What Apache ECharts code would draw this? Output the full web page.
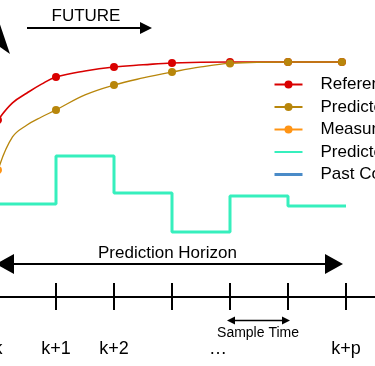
<!DOCTYPE html>
<html><head><meta charset="utf-8">
<script src="https://cdn.jsdelivr.net/npm/echarts@6/dist/echarts.min.js"></script>
<style>html,body{margin:0;padding:0;background:#fff}#c{width:375px;height:366px}</style>
</head><body><div id="c"></div>
<script>
// ---- data (time in sample steps, k = 0; outputs normalised so set-point = 1) ----
const tickLabels = ['k', 'k+1', 'k+2', '', '…', '', 'k+p'];

const refT = [0, 0.25, 0.5, 0.75, 1, 1.5, 2, 2.5, 3, 4, 5, 5.93];
const refV = [0.753, 0.826, 0.868, 0.906, 0.936, 0.962, 0.979, 0.988, 0.996, 1.0, 1.0, 1.0];
const refMarked = [1, 0, 0, 0, 1, 0, 1, 0, 1, 1, 1, 1];

const predT = [0, 0.25, 0.5, 0.75, 1, 1.5, 2, 2.5, 3, 3.5, 4, 5, 5.93];
const predV = [0.54, 0.681, 0.732, 0.766, 0.796, 0.860, 0.902, 0.932, 0.957, 0.979, 0.994, 1.0, 1.0];
const predMarked = [0, 0, 0, 0, 1, 0, 1, 0, 1, 0, 1, 1, 1];

const measT = [0];
const measV = [0.54];

const ctrlT = [0, 1, 2, 3, 4, 5, 6];
const ctrlV = [0.396, 0.600, 0.443, 0.277, 0.430, 0.387, 0.387];

const legendNames = ['Reference', 'Predicted Output', 'Measured Output', 'Predicted Control Action', 'Past Control Action'];

const noteTexts = ['FUTURE', 'Prediction Horizon', 'Sample Time'];
const noteT = [1.517, 2.922, 4.483];
const noteV = [1.196, 0.187, -0.152];
const noteSize = [17, 17, 14];

// arrows: [startT, startV, endT, endV]
const futureArrow = [0.5, 1.145, 2.552, 1.145];
const horizonArrow = [0.1207, 0.1404, 5.793, 0.1404];
const sampleArrow = [4.017, -0.1, 4.966, -0.1];
const cornerArrow = [-0.372, 1.2247, 0.0414, 1.0885];

const RED = '#d90000', GOLD = '#b8860b', ORANGE = '#ff9414', AQUA = '#36efbd', BLUE = '#4a8bc8';
const FONT = "'Liberation Sans', Arial, Helvetica, sans-serif";

function pts(ts, vs, marked) {
  return ts.map((t, i) => ({ value: [t, vs[i]], symbol: (marked && !marked[i]) ? 'none' : 'circle' }));
}

const chart = echarts.init(document.getElementById('c'), null, { renderer: 'canvas' });

const tickStyle = { color: '#000', width: 2 };
function labelFmt(value) {
  const i = Math.round(value);
  if (Math.abs(value - i) > 1e-6 || i < 0 || i >= tickLabels.length) return '';
  const s = tickLabels[i];
  return s === '…' ? '{d|…}' : s;
}

function arrow(a, startSym, endSym, w) {
  return [
    { coord: [a[0], a[1]], symbol: startSym[0], symbolSize: startSym[1], lineStyle: { width: w, color: '#000', type: 'solid' } },
    { coord: [a[2], a[3]], symbol: endSym[0], symbolSize: endSym[1] }
  ];
}

const option = {
  animation: false,
  backgroundColor: '#ffffff',
  textStyle: { fontFamily: FONT },
  grid: [
    { left: -60, top: -55.5, width: 440.8, height: 470, containLabel: false, outerBoundsMode: 'none' },
    { left: -60, top: 0, width: 440.8, height: 297, containLabel: false, outerBoundsMode: 'none' }
  ],
  xAxis: [
    {
      gridIndex: 0, type: 'value', position: 'bottom', min: -1, max: 6.6, interval: 1,
      axisLine: { show: true, onZero: true, lineStyle: tickStyle },
      axisTick: { show: true, inside: true, length: 14, lineStyle: tickStyle },
      axisLabel: { show: false }, splitLine: { show: false }
    },
    {
      gridIndex: 1, type: 'value', position: 'bottom', min: -1, max: 6.6, interval: 1,
      axisLine: { show: true, onZero: false, lineStyle: tickStyle },
      axisTick: { show: true, inside: false, length: 13, lineStyle: tickStyle },
      axisLabel: {
        show: true, margin: 43, fontSize: 18, color: '#000', fontFamily: FONT,
        formatter: labelFmt,
        rich: { d: { fontSize: 18, fontFamily: FONT, color: '#000', padding: [0, 24, 0, 0] } }
      },
      splitLine: { show: false }
    }
  ],
  yAxis: [
    { gridIndex: 0, type: 'value', min: -0.5, max: 1.5, show: false },
    { gridIndex: 1, type: 'value', min: 0, max: 1, show: false }
  ],
  legend: {
    orient: 'vertical', left: 273, top: 76, padding: 0,
    itemWidth: 28, itemHeight: 10, itemGap: 5.5,
    textStyle: { fontSize: 17, color: '#000', fontFamily: FONT, padding: [0, 0, 0, 13] },
    lineStyle: { width: 2 },
    data: [
      { name: legendNames[0] },
      { name: legendNames[1] },
      { name: legendNames[2] },
      { name: legendNames[3], itemStyle: { opacity: 0 } },
      { name: legendNames[4], itemStyle: { opacity: 0 }, lineStyle: { width: 3 } }
    ]
  },
  series: [
    {
      name: legendNames[3], type: 'line', step: 'end', symbol: 'none',
      data: ctrlT.map((t, i) => [t, ctrlV[i]]),
      lineStyle: { color: AQUA, width: 3 }, itemStyle: { color: AQUA }, z: 2
    },
    {
      name: legendNames[4], type: 'line', symbol: 'none', data: [],
      lineStyle: { color: BLUE, width: 3 }, itemStyle: { color: BLUE }, z: 2
    },
    {
      name: legendNames[0], type: 'line', smooth: 0.4, symbol: 'circle', symbolSize: 8,
      data: pts(refT, refV, refMarked),
      lineStyle: { color: RED, width: 1.6 }, itemStyle: { color: RED }, z: 3
    },
    {
      name: legendNames[1], type: 'line', smooth: 0.4, symbol: 'circle', symbolSize: 8,
      data: pts(predT, predV, predMarked),
      lineStyle: { color: GOLD, width: 1.3 }, itemStyle: { color: GOLD }, z: 4
    },
    {
      name: legendNames[2], type: 'line', symbol: 'circle', symbolSize: 8,
      data: pts(measT, measV, null),
      lineStyle: { color: ORANGE, width: 1.6 }, itemStyle: { color: ORANGE }, z: 5
    },
    {
      name: 'annotations', type: 'line', data: [], symbol: 'none',
      markLine: {
        silent: true, animation: false,
        label: { show: false },
        lineStyle: { color: '#000', type: 'solid', width: 2 },
        emphasis: { disabled: true },
        data: [
          arrow(futureArrow, ['none', 1], ['triangle', [12, 12]], 2),
          arrow(horizonArrow, ['triangle', [20, 18]], ['triangle', [20, 18]], 2),
          arrow(sampleArrow, ['triangle', [8, 8]], ['triangle', [8, 8]], 1.3),
          arrow(cornerArrow, ['none', 1], ['triangle', [21, 32]], 2)
        ]
      }
    },
    {
      name: 'notes', type: 'scatter', symbolSize: 1, silent: true,
      itemStyle: { color: 'rgba(0,0,0,0)' },
      data: noteTexts.map((s, i) => ({
        value: [noteT[i], noteV[i]], name: s,
        label: { fontSize: noteSize[i] }
      })),
      label: { show: true, position: 'inside', formatter: '{b}', color: '#000', opacity: 1, textBorderWidth: 0, fontFamily: FONT },
      emphasis: { disabled: true },
      z: 6
    }
  ]
};
chart.setOption(option);
</script>
</body></html>
